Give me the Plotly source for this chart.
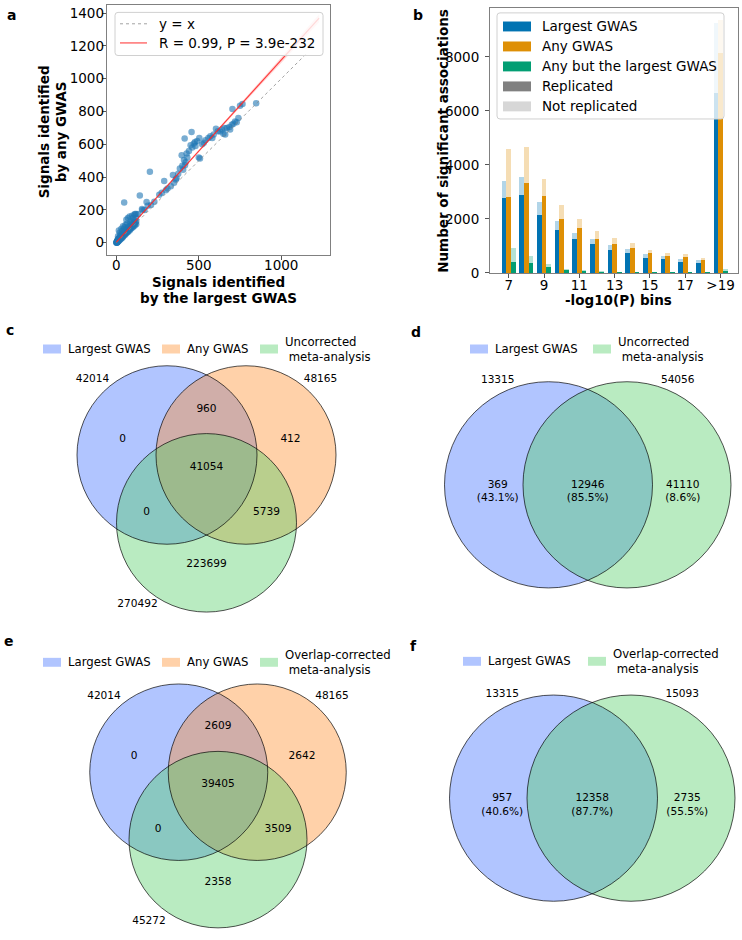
import numpy as np
import plotly.graph_objects as go

W, H = 742, 940
FONT = "DejaVu Sans"

# ---------------- Panel a data: signals per trait ----------------
a_largest = [0, 1, 2, 1, 3, 2, 3, 5, 4, 4, 6, 6, 8, 8, 10, 12, 12, 7, 9, 14, 15, 16, 18, 18, 20, 22, 24, 25,
             26, 28, 28, 30, 32, 33, 35, 36, 38, 40, 42, 44, 45, 46, 48, 50, 52, 54, 55, 56, 58, 60, 62, 64,
             65, 66, 68, 70, 72, 74, 75, 76, 78, 80, 82, 84, 85, 86, 88, 90, 94, 95, 96, 100, 104, 105, 108,
             110, 114, 115, 118, 120,
             10, 15, 20, 25, 30, 35, 40, 45, 50, 55, 60, 65, 70, 75, 80, 85, 95, 100, 110, 120,
             5, 10, 15, 20, 25, 30, 35, 40, 50, 60, 70, 80, 90, 100, 110, 120,
             47, 142, 203, 183, 158, 112, 132, 155, 170, 190, 210, 230, 260, 275, 290, 300, 310, 330, 343,
             350, 360, 365, 375, 385, 396, 400, 405, 410, 416, 420, 426, 414, 430, 440, 450, 456, 460, 470,
             477, 480, 490, 500, 503, 507, 520, 530, 540, 558, 570, 582, 590, 604, 615, 629, 640, 649, 655,
             660, 670, 686, 690, 700, 704, 710, 720, 730, 740, 750, 765, 848]
a_any = [0, 1, 2, 3, 1, 3, 5, 4, 4, 8, 6, 10, 9, 12, 14, 12, 18, 18, 22, 20, 25, 16, 22, 30, 28, 30, 24, 27,
         35, 40, 32, 33, 45, 36, 38, 48, 42, 55, 47, 44, 52, 58, 60, 55, 70, 54, 62, 75, 65, 80, 68, 64,
         72, 85, 90, 78, 85, 74, 82, 90, 95, 88, 100, 84, 92, 115, 105, 98, 94, 110, 125, 108, 104, 120, 135,
         118, 114, 125, 150, 130,
         40, 75, 60, 50, 85, 70, 100, 80, 95, 110, 140, 115, 150, 100, 160, 130, 165, 150, 170, 175,
         1, 8, 12, 17, 22, 26, 31, 36, 46, 56, 66, 75, 86, 95, 104, 112,
         246, 288, 433, 248, 199, 175, 175, 205, 200, 225, 230, 250, 292, 305, 377, 320, 330, 345, 413,
         365, 385, 393, 420, 453, 534, 470, 445, 505, 473, 490, 544, 635, 520, 560, 594, 675, 580, 605,
         614, 590, 620, 520, 639, 514, 600, 610, 625, 639, 650, 639, 660, 695, 680, 679, 690, 665, 700,
         660, 700, 705, 691, 720, 816, 725, 740, 735, 760, 836, 846, 850]
reg_slope = 1.11
reg_intercept = 4.0
reg_xmax = 1230
ci_x = [0, 300, 600, 900, 1230]
ci_halfwidth = [6, 4, 7, 14, 24]
identity_max = 1150
a_legend = ["y = x", "R = 0.99, P = 3.9e-232"]

# ---------------- Panel b data ----------------
bins = ["7", "8", "9", "10", "11", "12", "13", "14", "15", "16", "17", "18", ">19"]
b_tick_labels = ["7", "9", "11", "13", "15", "17", ">19"]
largest_total = [3400, 3560, 2618, 1933, 1480, 1250, 1015, 866, 708, 624, 500, 464, 9250]
largest_repl = [2765, 2862, 2128, 1578, 1233, 1050, 832, 745, 561, 525, 415, 354, 6650]
any_total = [4563, 4648, 3462, 2520, 1994, 1530, 1270, 1112, 855, 745, 708, 561, 9350]
any_repl = [2789, 3315, 2826, 2006, 1639, 1265, 1050, 928, 720, 624, 598, 477, 8150]
anybut_total = [928, 624, 341, 150, 85, 48, 20, 12, 8, 6, 5, 4, 133]
anybut_repl = [415, 378, 194, 97, 55, 24, 10, 6, 4, 3, 2, 2, 73]
b_series = ["Largest GWAS", "Any GWAS", "Any but the largest GWAS"]
b_status = ["Replicated", "Not replicated"]

# ---------------- Venn data ----------------
# region order for 3 sets: A only, A&B, B only, A&B&C, A&C, B&C, C only
c_sets = ["Largest GWAS", "Any GWAS", "Uncorrected<br>\u00a0meta-analysis"]
c_totals = [42014, 48165, 270492]
c_regions = [0, 960, 412, 41054, 0, 5739, 223699]
e_sets = ["Largest GWAS", "Any GWAS", "Overlap-corrected<br>\u00a0meta-analysis"]
e_totals = [42014, 48165, 45272]
e_regions = [0, 2609, 2642, 39405, 0, 3509, 2358]
# 2 sets: A only, A&B, B only
d_sets = ["Largest GWAS", "Uncorrected<br>\u00a0meta-analysis"]
d_totals = [13315, 54056]
d_regions = [369, 12946, 41110]
d_pct = ["43.1%", "85.5%", "8.6%"]
f_sets = ["Largest GWAS", "Overlap-corrected<br>\u00a0meta-analysis"]
f_totals = [13315, 15093]
f_regions = [957, 12358, 2735]
f_pct = ["40.6%", "87.7%", "55.5%"]

# ---------------- styles ----------------
BLUE, ORANGE, GREEN = (1, 115, 178), (222, 143, 5), (2, 158, 115)
V_BLUE, V_ORANGE, V_GREEN = (60, 110, 255), (255, 140, 40), (80, 205, 100)


def rgba(c, a):
    return f"rgba({c[0]},{c[1]},{c[2]},{a})"


def px(x):
    return x / W


def py(y):
    return 1 - y / H


fig = go.Figure()
shapes = []
annos = []

# ---------------- Panel a ----------------
fig.add_trace(go.Scatter(x=a_largest, y=a_any, mode="markers", xaxis="x", yaxis="y",
                         marker=dict(color="#1f77b4", opacity=0.6, size=6.5, line=dict(width=0)),
                         hoverinfo="skip"))
fig.add_trace(go.Scatter(x=[0, identity_max], y=[0, identity_max], mode="lines", xaxis="x", yaxis="y",
                         line=dict(color="#8a8a8a", width=0.8, dash="dot")))
ci_x_arr = np.array(ci_x, dtype=float)
fit_at = reg_intercept + reg_slope * ci_x_arr
upper = fit_at + np.array(ci_halfwidth)
lower = fit_at - np.array(ci_halfwidth)
fig.add_trace(go.Scatter(x=list(ci_x_arr) + list(ci_x_arr[::-1]), y=list(upper) + list(lower[::-1]),
                         mode="lines", fill="toself", fillcolor="rgba(255,0,0,0.15)",
                         line=dict(width=0), xaxis="x", yaxis="y"))
fig.add_trace(go.Scatter(x=[0, reg_xmax], y=[reg_intercept, reg_intercept + reg_slope * reg_xmax],
                         mode="lines", line=dict(color="rgba(255,40,40,0.9)", width=1.1), xaxis="x", yaxis="y"))

# ---------------- Panel b ----------------
w = 0.8 / 3
xi = np.arange(len(bins))
series = [(largest_total, largest_repl, BLUE, -w), (any_total, any_repl, ORANGE, 0.0),
          (anybut_total, anybut_repl, GREEN, w)]
for tot, rep, col, off in series:
    fig.add_trace(go.Bar(x=xi + off, y=tot, width=w, marker=dict(color=rgba(col, 0.3), line=dict(width=0)),
                         xaxis="x2", yaxis="y2"))
for tot, rep, col, off in series:
    fig.add_trace(go.Bar(x=xi + off, y=rep, width=w, marker=dict(color=rgba(col, 1), line=dict(width=0)),
                         xaxis="x2", yaxis="y2"))

# ---------------- Venn diagrams (pixel coordinate overlay axis x3/y3) ----------------
venn_fills = []
venn_lines = []
vx, vy, vt = [], [], []


def circle(cx, cy, r, col):
    venn_fills.append(dict(type="circle", xref="x3", yref="y3", x0=cx - r, x1=cx + r, y0=cy - r, y1=cy + r,
                           fillcolor=rgba(col, 0.4), line=dict(width=0), layer="below"))
    venn_lines.append(dict(type="circle", xref="x3", yref="y3", x0=cx - r, x1=cx + r, y0=cy - r, y1=cy + r,
                           fillcolor="rgba(0,0,0,0)", line=dict(color="rgba(0,0,0,0.85)", width=0.8),
                           layer="below"))


def legend_venn(items, y, xs):
    for (label, col), x0 in zip(items, xs):
        shapes.append(dict(type="rect", xref="x3", yref="y3", x0=x0, x1=x0 + 18, y0=y - 4.5, y1=y + 4.5,
                           fillcolor=rgba(col, 0.4), line=dict(width=0), layer="below"))
        annos.append(dict(x=x0 + 23, y=y, xref="x3", yref="y3", text=label, showarrow=False, xanchor="left",
                          yanchor="middle", align="left", font=dict(family=FONT, size=11.7, color="black")))


def venn3(gx, gy, r, sep, totals, regions, sets, legend_y):
    h = sep * np.sqrt(3) / 6
    circle(gx - sep / 2, gy - h, r, V_BLUE)
    circle(gx + sep / 2, gy - h, r, V_ORANGE)
    circle(gx, gy + 2 * h, r, V_GREEN)
    offs = [(-84, -39), (0, -69), (84, -39), (0, -10), (-60, 35), (60, 35), (0, 88)]
    for (ox, oy), val in zip(offs, regions):
        vx.append(gx + ox); vy.append(gy + oy); vt.append(str(val))
    for (ox, oy), val in zip([(-114, -99), (114, -99), (-69, 128)], totals):
        vx.append(gx + ox); vy.append(gy + oy); vt.append(str(val))
    legend_venn(list(zip(sets, [V_BLUE, V_ORANGE, V_GREEN])), legend_y, [43, 162, 260])


def venn2(mx, cy, r, sep, totals, regions, pct, sets, legend_y, legend_xs):
    circle(mx - sep / 2, cy, r, V_BLUE)
    circle(mx + sep / 2, cy, r, V_GREEN)
    for ox, val, p in zip([-90, 0, 95], regions, pct):
        vx.append(mx + ox); vy.append(cy + 7); vt.append(f"{val}<br>({p})")
    for ox, val in zip([-90, 90], totals):
        vx.append(mx + ox); vy.append(cy - 105); vt.append(str(val))
    legend_venn(list(zip(sets, [V_BLUE, V_GREEN])), legend_y, legend_xs)


venn3(206.5, 481.7, 90, 79, c_totals, c_regions, c_sets, 352)
venn2(587.75, 489, 104, 78.5, d_totals, d_regions, d_pct, d_sets, 352, [470, 593])
venn3(218, 801.5, 89, 78.5, e_totals, e_regions, e_sets, 668)
venn2(592.25, 805, 104, 77.5, f_totals, f_regions, f_pct, f_sets, 667, [463, 588])

fig.add_trace(go.Scatter(x=vx, y=vy, text=vt, mode="text", xaxis="x3", yaxis="y3", cliponaxis=False,
                         textposition="middle center", textfont=dict(family=FONT, size=10.6, color="black"),
                         hoverinfo="skip"))

shapes = venn_fills + venn_lines + shapes

# ---------------- Legends for a and b (drawn manually) ----------------
def rounded_box(x0, y0, x1, y1, r=3):
    X0, X1, Y0, Y1 = px(x0), px(x1), py(y0), py(y1)
    rx, ry = r / W, r / H
    path = (f"M{X0+rx},{Y0} L{X1-rx},{Y0} Q{X1},{Y0} {X1},{Y0-ry} L{X1},{Y1+ry} Q{X1},{Y1} {X1-rx},{Y1} "
            f"L{X0+rx},{Y1} Q{X0},{Y1} {X0},{Y1+ry} L{X0},{Y0-ry} Q{X0},{Y0} {X0+rx},{Y0} Z")
    return dict(type="path", xref="paper", yref="paper", path=path, fillcolor="rgba(255,255,255,0.8)",
                line=dict(color="#d0d0d0", width=1), layer="above")


shapes.append(rounded_box(115, 12.5, 323, 56))
shapes.append(dict(type="line", xref="paper", yref="paper", x0=px(120), x1=px(147), y0=py(24), y1=py(24),
                   line=dict(color="#8a8a8a", width=0.8, dash="dot"), layer="above"))
shapes.append(dict(type="line", xref="paper", yref="paper", x0=px(120), x1=px(147), y0=py(43.3), y1=py(43.3),
                   line=dict(color="rgba(255,40,40,0.9)", width=1.1), layer="above"))
for t, yy in zip(a_legend, [24, 43.3]):
    annos.append(dict(x=px(157), y=py(yy), xref="paper", yref="paper", text=t, showarrow=False, xanchor="left",
                      yanchor="middle", font=dict(family=FONT, size=13.5, color="black")))

shapes.append(rounded_box(497, 13, 724, 120))
b_leg_items = list(zip(b_series + b_status, [BLUE, ORANGE, GREEN, (128, 128, 128), (215, 215, 215)]))
for k, (t, col) in enumerate(b_leg_items):
    yy = 26.7 + 20.15 * k
    shapes.append(dict(type="rect", xref="paper", yref="paper", x0=px(503), x1=px(531), y0=py(yy - 5),
                       y1=py(yy + 5), fillcolor=rgba(col, 1), line=dict(width=0), layer="above"))
    annos.append(dict(x=px(540), y=py(yy), xref="paper", yref="paper", text=t, showarrow=False, xanchor="left",
                      yanchor="middle", font=dict(family=FONT, size=13.5, color="black")))

# ---------------- Axis titles and panel letters ----------------
bold = dict(family=FONT, size=13.5, color="black")
for t, yy in [("Signals identified", 284), ("by the largest GWAS", 301)]:
    annos.append(dict(x=px(218), y=py(yy), xref="paper", yref="paper", text=f"<b>{t}</b>", showarrow=False,
                      xanchor="center", yanchor="middle", font=bold))
for t, xx in [("Signals identified", 43.5), ("by any GWAS", 60.5)]:
    annos.append(dict(x=px(xx), y=py(133), xref="paper", yref="paper", textangle=-90, text=f"<b>{t}</b>",
                      showarrow=False, xanchor="center", yanchor="middle", font=bold))
annos.append(dict(x=px(443), y=py(142), xref="paper", yref="paper", textangle=-90,
                  text="<b>Number of significant associations</b>", showarrow=False,
                  xanchor="center", yanchor="middle", font=bold))
annos.append(dict(x=px(618), y=py(302.5), xref="paper", yref="paper", text="<b>-log10(P) bins</b>",
                  showarrow=False, xanchor="center", yanchor="middle", font=bold))
for letter, lx, ly in [("a", 11, 15), ("b", 418, 15), ("c", 10, 333), ("d", 416, 335), ("e", 9, 646),
                       ("f", 413, 652)]:
    annos.append(dict(x=px(lx), y=py(ly), xref="paper", yref="paper", text=f"<b>{letter}</b>", showarrow=False,
                      xanchor="center", yanchor="middle", font=dict(family=FONT, size=14, color="black")))

axis_common = dict(showline=True, mirror=True, linecolor="#808080", linewidth=1, ticks="outside", ticklen=4,
                   tickcolor="#555", showgrid=False, zeroline=False,
                   tickfont=dict(family=FONT, size=13.5, color="black"), fixedrange=True)

fig.update_layout(
    width=W, height=H, margin=dict(l=0, r=0, t=0, b=0), paper_bgcolor="white", plot_bgcolor="rgba(0,0,0,0)",
    showlegend=False, barmode="overlay", bargap=0,
    xaxis=dict(domain=[px(106.7), px(330)], range=[-59, 1296], tickvals=[0, 500, 1000], anchor="y",
               ticklabelstandoff=-6, **axis_common),
    yaxis=dict(domain=[py(256.7), py(5)], range=[-72, 1450], tickvals=list(range(0, 1401, 200)), anchor="x",
               ticklabelstandoff=-5, **axis_common),
    xaxis2=dict(domain=[px(490), px(737.7)], range=[-1.06, 12.97], tickvals=list(range(0, 13, 2)),
                ticktext=b_tick_labels, anchor="y2", ticklabelstandoff=-4, **axis_common),
    yaxis2=dict(domain=[py(275.3), py(8.3)], range=[0, 9800], tickvals=[0, 2000, 4000, 6000, 8000],
                anchor="x2", ticklabelstandoff=3, **axis_common),
    xaxis3=dict(domain=[0, 1], range=[0, W], visible=False, fixedrange=True, anchor="y3"),
    yaxis3=dict(domain=[0, py(310)], range=[H, 310], visible=False, fixedrange=True, anchor="x3"),
    shapes=shapes, annotations=annos,
)

fig.write_html("out.html")
